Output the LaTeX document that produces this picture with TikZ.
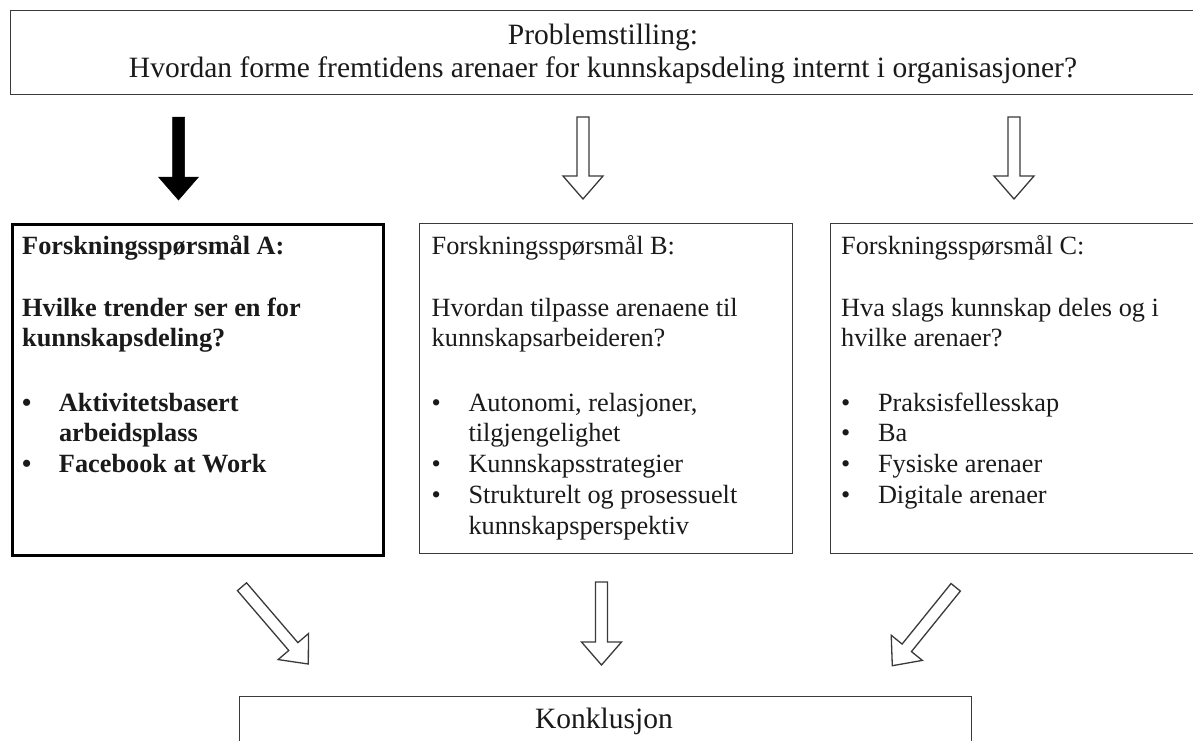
\documentclass[tikz,border=0pt]{standalone}
\usepackage{fontspec}
\setmainfont{Liberation Serif}
\usetikzlibrary{calc}
\definecolor{edge}{HTML}{3A3A3A}
\definecolor{ink}{HTML}{1A1A1A}
\tikzset{
  frame/.style={draw=edge, line width=1.2pt, inner sep=0pt, anchor=north west},
  boldframe/.style={draw=black, line width=3pt, inner sep=0pt, anchor=north west},
  boxtext/.style={anchor=north west, inner sep=0pt, align=left, text=ink, font=\fontsize{26.3}{30.7}\selectfont},
  bigtext/.style={anchor=base, inner sep=0pt, text=ink, font=\fontsize{29.5}{33}\selectfont},
  hollowarrow/.style={draw=edge, line width=1.3pt, fill=white, line join=miter},
  solidarrow/.style={draw=black, fill=black, line width=0.5pt},
}
\newcommand{\blockarr}[3]{%
  \path ($(#3)!23pt!(#2)$) coordinate (bh);
  \draw[#1] ($(#2)!6pt!90:(#3)$) -- ($(bh)!6pt!90:(#3)$) -- ($(bh)!20pt!90:(#3)$) -- (#3)
    -- ($(bh)!20pt!-90:(#3)$) -- ($(bh)!6pt!-90:(#3)$) -- ($(#2)!6pt!-90:(#3)$) -- cycle;}
\newcommand{\bul}{\makebox[36.8pt][l]{•}}
\newcommand{\bulcont}{\hspace*{36.8pt}}
\begin{document}
\begin{tikzpicture}[x=1pt,y=-1pt]
\useasboundingbox (0,0) rectangle (1193,740);
\fill[white] (0,0) rectangle (1193,740);
\clip (0,0) rectangle (1193,740);

% top box
\node (top) [frame, minimum width=1187.5pt, minimum height=84pt] at (9.5,10) {};
\node (ptitle) [bigtext] at (603,44) {Problemstilling:};
\node (pquest) [bigtext] at (603,77.3) {Hvordan forme fremtidens arenaer for kunnskapsdeling internt i organisasjoner?};

% question boxes
\node (boxA) [boldframe, minimum width=371pt, minimum height=331pt] at (11,223) {};
\node (boxB) [frame, minimum width=373pt, minimum height=330.5pt] at (418.5,222.5) {};
\node (boxC) [frame, minimum width=373pt, minimum height=330.5pt] at (829.5,222.5) {};

\node (textA) [boxtext, font=\fontsize{26.3}{30.7}\selectfont\bfseries] at (22,232.5) {\strut Forskningsspørsmål A:\\[31.3pt]
Hvilke trender ser en for\\
kunnskapsdeling?\\[33.6pt]
\bul Aktivitetsbasert\\
\bulcont arbeidsplass\\
\bul Facebook at Work};

\node (textB) [boxtext] at (431.5,232.5) {\strut Forskningsspørsmål B:\\[31.3pt]
Hvordan tilpasse arenaene til\\
kunnskapsarbeideren?\\[33.6pt]
\bul Autonomi, relasjoner,\\
\bulcont tilgjengelighet\\
\bul Kunnskapsstrategier\\
\bul Strukturelt og prosessuelt\\
\bulcont kunnskapsperspektiv};

\node (textC) [boxtext] at (841,232.5) {\strut Forskningsspørsmål C:\\[31.3pt]
Hva slags kunnskap deles og i\\
hvilke arenaer?\\[33.6pt]
\bul Praksisfellesskap\\
\bul Ba\\
\bul Fysiske arenaer\\
\bul Digitale arenaer};

% conclusion box
\node (konk) [frame, minimum width=732pt, minimum height=70pt] at (239,696) {};
\node (konktext) [bigtext] at (604,728.3) {Konklusjon};

% arrows
\coordinate (aT) at (178.5,117);  \coordinate (aP) at (178.5,200);
\coordinate (bT) at (583,117);    \coordinate (bP) at (583,199);
\coordinate (cT) at (1014,117);   \coordinate (cP) at (1014,199);
\coordinate (dT) at (242,586.7);  \coordinate (dP) at (308.3,664);
\coordinate (eT) at (601.5,582);  \coordinate (eP) at (601.5,665);
\coordinate (fT) at (955.7,587.3);\coordinate (fP) at (892.3,665.7);

\blockarr{solidarrow}{aT}{aP}
\blockarr{hollowarrow}{bT}{bP}
\blockarr{hollowarrow}{cT}{cP}
\blockarr{hollowarrow}{dT}{dP}
\blockarr{hollowarrow}{eT}{eP}
\blockarr{hollowarrow}{fT}{fP}
\end{tikzpicture}
\end{document}
